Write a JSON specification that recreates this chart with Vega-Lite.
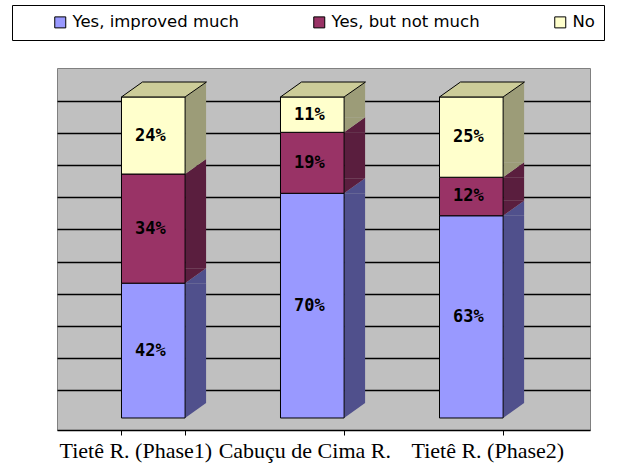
{
  "$schema": "https://vega.github.io/schema/vega-lite/v6.json",
  "width": 533,
  "height": 362,
  "autosize": {"type": "none"},
  "padding": {"left": 57, "top": 68, "right": 39, "bottom": 45},
  "background": "#ffffff",
  "data": {
    "values": [
      {"site": "Tietê R. (Phase1)", "answer": "Yes, improved much", "value": 0.42},
      {"site": "Tietê R. (Phase1)", "answer": "Yes, but not much", "value": 0.34},
      {"site": "Tietê R. (Phase1)", "answer": "No", "value": 0.24},
      {"site": "Cabuçu de Cima R.", "answer": "Yes, improved much", "value": 0.70},
      {"site": "Cabuçu de Cima R.", "answer": "Yes, but not much", "value": 0.19},
      {"site": "Cabuçu de Cima R.", "answer": "No", "value": 0.11},
      {"site": "Tietê R. (Phase2)", "answer": "Yes, improved much", "value": 0.63},
      {"site": "Tietê R. (Phase2)", "answer": "Yes, but not much", "value": 0.12},
      {"site": "Tietê R. (Phase2)", "answer": "No", "value": 0.25}
    ]
  },
  "transform": [
    {"stack": "value", "groupby": ["site"], "sort": [{"field": "answer", "order": "descending"}], "as": ["y0", "y1"]}
  ],
  "encoding": {
    "x": {
      "field": "site", "type": "nominal", "sort": null, "title": null,
      "scale": {"paddingInner": 0.6, "paddingOuter": 0.476, "align": 0.426},
      "axis": {
        "labelAngle": 0, "labelFont": "Liberation Serif", "labelFontSize": 22, "labelColor": "#000",
        "labelPadding": 5, "labelLimit": 400, "labelOverlap": false, "labelBound": false,
        "domainColor": "#000", "domainWidth": 1.5, "tickColor": "#000", "tickSize": 5, "tickBand": "extent",
        "labelOffset": {"condition": [{"test": "datum.value === 'Tietê R. (Phase1)'", "value": -18}, {"test": "datum.value === 'Tietê R. (Phase2)'", "value": 16}], "value": -8}
      }
    }
  },
  "layer": [
    {
      "mark": {"type": "bar", "width": 21, "xOffset": 42.3, "y2Offset": -15},
      "encoding": {
        "y": {"field": "y1", "type": "quantitative", "title": null,
          "scale": {"domain": [-0.0374, 1.0903], "nice": false, "zero": false},
          "axis": {"values": [0.0872, 0.1872, 0.2872, 0.3872, 0.4872, 0.5872, 0.6872, 0.7872, 0.8872, 0.9872], "labels": false, "ticks": false, "domain": false, "grid": true, "gridColor": "#000", "gridWidth": 1.4, "title": null}},
        "y2": {"field": "y0"},
        "fill": {"field": "answer", "type": "nominal", "legend": null,
          "scale": {"domain": ["No", "Yes, but not much", "Yes, improved much"], "range": ["#9c9c78", "#5a1e3e", "#50508c"]}}
      }
    },
    {
      "mark": {"type": "point", "shape": "M -1 0.714 L 1 -0.714 L 1 0.714 Z", "size": 441, "filled": true, "opacity": 1, "strokeWidth": 0, "xOffset": 42.3, "yOffset": -7.5},
      "encoding": {
        "y": {"field": "y1", "type": "quantitative", "title": null,
          "scale": {"domain": [-0.0374, 1.0903], "nice": false, "zero": false},
          "axis": {"values": [0.0872, 0.1872, 0.2872, 0.3872, 0.4872, 0.5872, 0.6872, 0.7872, 0.8872, 0.9872], "labels": false, "ticks": false, "domain": false, "grid": true, "gridColor": "#000", "gridWidth": 1.4, "title": null}},
        "fill": {"field": "answer", "type": "nominal", "legend": null,
          "scale": {"domain": ["No", "Yes, but not much", "Yes, improved much"], "range": ["#9c9c78", "#5a1e3e", "#50508c"]}}
      }
    },
    {
      "mark": {"type": "point", "shape": "M -1 -0.714 L -1 0.714 L 1 -0.714 Z", "size": 441, "filled": true, "opacity": 1, "strokeWidth": 0, "xOffset": 42.3, "yOffset": -7.5},
      "encoding": {
        "y": {"field": "y0", "type": "quantitative", "title": null,
          "scale": {"domain": [-0.0374, 1.0903], "nice": false, "zero": false},
          "axis": {"values": [0.0872, 0.1872, 0.2872, 0.3872, 0.4872, 0.5872, 0.6872, 0.7872, 0.8872, 0.9872], "labels": false, "ticks": false, "domain": false, "grid": true, "gridColor": "#000", "gridWidth": 1.4, "title": null}},
        "fill": {"field": "answer", "type": "nominal", "legend": null,
          "scale": {"domain": ["No", "Yes, but not much", "Yes, improved much"], "range": ["#9c9c78", "#5a1e3e", "#50508c"]}}
      }
    },
    {
      "mark": {"type": "bar", "stroke": "#000", "strokeWidth": 1},
      "encoding": {
        "y": {"field": "y1", "type": "quantitative", "title": null,
          "scale": {"domain": [-0.0374, 1.0903], "nice": false, "zero": false},
          "axis": {"values": [0.0872, 0.1872, 0.2872, 0.3872, 0.4872, 0.5872, 0.6872, 0.7872, 0.8872, 0.9872], "labels": false, "ticks": false, "domain": false, "grid": true, "gridColor": "#000", "gridWidth": 1.4, "title": null}},
        "y2": {"field": "y0"},
        "color": {"field": "answer", "type": "nominal",
          "scale": {"domain": ["Yes, improved much", "Yes, but not much", "No"], "range": ["#9999ff", "#993366", "#ffffcc"]},
          "legend": {
            "title": null, "orient": "none", "legendX": -45, "legendY": -63, "direction": "horizontal",
            "fillColor": "#ffffff", "strokeColor": "#000000", "padding": 9,
            "symbolType": "square", "symbolSize": 121, "symbolStrokeColor": "#000", "symbolStrokeWidth": 1,
            "labelFont": "DejaVu Sans", "labelFontSize": 16.5, "labelColor": "#000", "labelLimit": 300,
            "columnPadding": 41, "symbolOffset": 31
          }}
      }
    },
    {
      "transform": [{"filter": "datum.answer === 'No'"}],
      "mark": {"type": "point", "shape": "M -1 0.176 L 0.4965 0.176 L 1 -0.176 L -0.506 -0.176 Z", "size": 7225, "filled": true, "opacity": 1, "fill": "#cccc99", "stroke": "#000", "strokeWidth": 1, "xOffset": 10.7, "yOffset": -7.5},
      "encoding": {
        "y": {"field": "y1", "type": "quantitative", "title": null,
          "scale": {"domain": [-0.0374, 1.0903], "nice": false, "zero": false},
          "axis": {"values": [0.0872, 0.1872, 0.2872, 0.3872, 0.4872, 0.5872, 0.6872, 0.7872, 0.8872, 0.9872], "labels": false, "ticks": false, "domain": false, "grid": true, "gridColor": "#000", "gridWidth": 1.4, "title": null}}
      }
    },
    {
      "mark": {"type": "text", "font": "DejaVu Sans Mono", "fontWeight": "bold", "fontSize": 17, "color": "#000", "baseline": "middle", "xOffset": -3,
        "yOffset": {"expr": "(scale('y', datum.y0) - scale('y', datum.y1)) / 2"}},
      "encoding": {
        "y": {"field": "y1", "type": "quantitative", "title": null,
          "scale": {"domain": [-0.0374, 1.0903], "nice": false, "zero": false},
          "axis": {"values": [0.0872, 0.1872, 0.2872, 0.3872, 0.4872, 0.5872, 0.6872, 0.7872, 0.8872, 0.9872], "labels": false, "ticks": false, "domain": false, "grid": true, "gridColor": "#000", "gridWidth": 1.4, "title": null}},
        "text": {"field": "value", "type": "quantitative", "format": ".0%"}
      }
    }
  ],
  "config": {
    "view": {"fill": "#c0c0c0", "stroke": "#808080"}
  }
}
